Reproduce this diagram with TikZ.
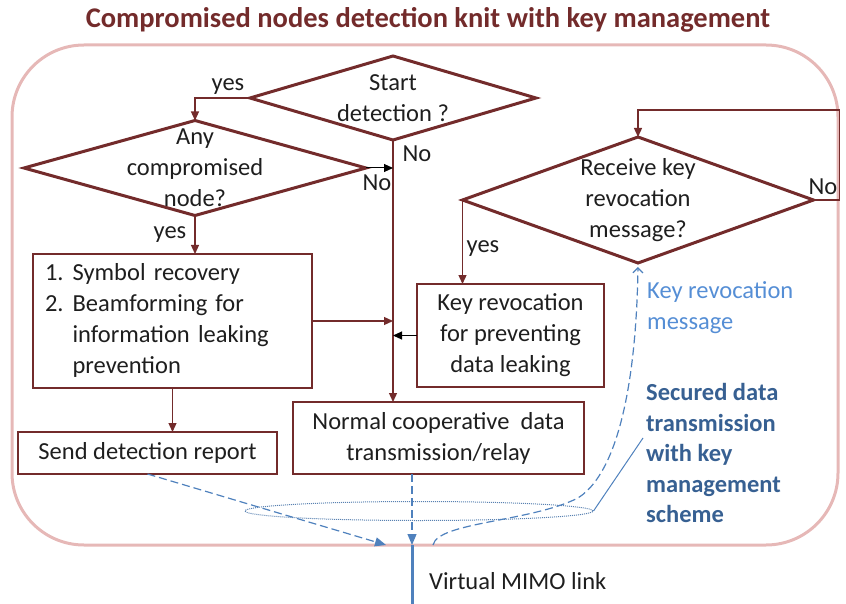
\documentclass[tikz,border=0pt]{standalone}
\usepackage{fontspec}
\setmainfont{Carlito}
\usepackage{tikz}
\usetikzlibrary{shapes.geometric}
\usetikzlibrary{arrows.meta}
\usetikzlibrary{calc}

\definecolor{knitred}{RGB}{115,43,43}
\definecolor{framepink}{RGB}{230,184,183}
\definecolor{linkblue}{RGB}{79,129,189}
\definecolor{msgblue}{RGB}{85,142,213}
\definecolor{schemeblue}{RGB}{55,96,146}
\definecolor{txtgray}{RGB}{30,30,30}

\tikzset{
  decision/.style={draw=knitred, line width=3pt, shape=diamond, inner sep=0pt, outer sep=0pt},
  process/.style={draw=knitred, line width=1.3pt, inner sep=0pt, outer sep=0pt, align=center},
  flow/.style={draw=knitred, line width=1.3pt, -{Triangle[length=9pt,width=8pt]}},
  flowblack/.style={draw=black, line width=1pt, -{Triangle[length=9pt,width=8pt]}},
  wireless/.style={draw=linkblue, line width=1.2pt, dash pattern=on 8pt off 4pt},
  tag/.style={inner sep=0pt}
}

\begin{document}
\begin{tikzpicture}[x=1pt,y=1pt,yscale=-1,text=txtgray,font=\fontsize{24.5}{31}\selectfont]
\useasboundingbox (0,0) rectangle (846,604);

%Shape: Rounded frame
\draw[framepink, line width=3pt, rounded corners=72pt] (12,45) rectangle (838,545);

% Title
\node[font=\bfseries\fontsize{28.5}{32}\selectfont, text=knitred] (title) at (428,20) {Compromised nodes detection knit with key management};

%Shape: Diamonds
\node[decision, minimum width=286, minimum height=84, label={[align=center]center:Start\\detection ?}] (start) at (393,98) {};
\node[decision, minimum width=342, minimum height=95, label={[align=center]center:Any\\compromised\\node?}] (anycomp) at (195,168) {};
\node[decision, minimum width=351, minimum height=126, label={[align=center]center:Receive key\\revocation\\message?}] (recv) at (638,200) {};

%Shape: Boxes
\node[process, align=left, text width=255, inner xsep=12, minimum height=134] (recovery) at (172.5,321)
  {\begin{tabular}{@{}r@{\hspace{9pt}}l@{}}1.&Symbol recovery\\2.&Beamforming for\\&information leaking\\&prevention\end{tabular}};
\node[process, minimum width=259, minimum height=42] (report) at (147.5,453) {Send detection report};
\node[process, minimum width=187, minimum height=103] (keyrevoke) at (510.5,335.5) {Key revocation\\for preventing\\data leaking};
\node[process, minimum width=291, minimum height=72] (normal) at (438.5,438) {Normal cooperative\ \ data\\transmission/relay};

%Flow lines
\draw[flow] (start.west) -| (anycomp.north);
\draw[flow] (start.south) -- (start.south |- normal.north);
\draw[flowblack] (anycomp.east) -- (anycomp.east -| start.south);
\draw[flow] (anycomp.south) -- (anycomp.south |- recovery.north);
\draw[flow] (recovery.east) -- (recovery.east -| start.south);
\draw[flow] (recovery.south) -- (recovery.south |- report.north);
\draw[flowblack] (keyrevoke.west) -- (keyrevoke.west -| start.south);
\draw[flow] (recv.west) -- (recv.west |- keyrevoke.north);
\draw[flow] (recv.east) -- ++(26,0) -- ++(0,-90) -| (recv.north);

% Text Node
\node[tag] (yesstart) at (228,87) {yes};
\node[tag] (nostart) at (417,154) {No};
\node[tag] (noany) at (377,183) {No};
\node[tag] (yesany) at (170,235) {yes};
\node[tag] (norecv) at (823,187) {No};
\node[tag] (yesrecv) at (483,249) {yes};

%Virtual MIMO link
\coordinate (mimo) at (412,545);
\coordinate (mimoin) at (386,545);
\coordinate (mimoout) at (433,545);
\coordinate (mimoend) at (412,604);
\draw[linkblue, line width=3pt] (mimo) -- (mimoend);
\node[tag, anchor=west] (mimolabel) at (429,581) {Virtual MIMO link};

\node[draw=linkblue!80!gray, densely dotted, line width=1pt, ellipse, minimum width=348, minimum height=19, inner sep=0pt] (swarm) at (419,511) {};

\draw[wireless, -{Triangle[length=11pt,width=9pt]}] (report.south) -- (mimoin);
\draw[wireless, -{Triangle[length=11pt,width=9pt]}] (normal.south -| mimo) -- (mimo);
\draw[wireless, -{Straight Barb[length=5pt,width=10pt]}, shorten >=4pt] (mimoout) .. controls (438,522) and (530,522) .. (578,498) .. controls (628,466) and (637,340) .. (recv.south);

\node[tag, anchor=west, align=left, text=msgblue] (msglabel) at (647,308) {Key revocation\\message};
\node[tag, anchor=west, align=left, text=schemeblue, font=\bfseries\fontsize{24.5}{30.5}\selectfont] (scheme) at (646,453) {Secured data\\transmission\\with key\\management\\scheme};
\draw[linkblue, line width=1pt] (swarm.east) -- ($(scheme.west)+(-3,-15)$);

\end{tikzpicture}
\end{document}
